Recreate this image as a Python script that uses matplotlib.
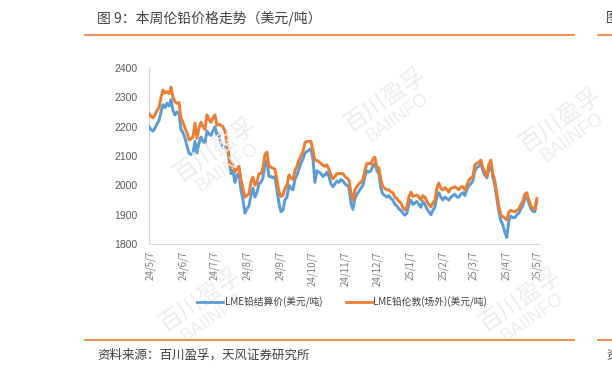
import matplotlib
matplotlib.use("Agg")
import matplotlib.pyplot as plt
from matplotlib.lines import Line2D
import pandas as pd

plt.rcParams['font.family'] = ['Noto Sans CJK SC', 'DejaVu Sans']

title = "图 9：本周伦铅价格走势（美元/吨）"
source = "资料来源：百川盈孚，天风证券研究所"
series_names = ["LME铅结算价(美元/吨)", "LME铅伦敦(场外)(美元/吨)"]
tick_dates = ["2024-05-07", "2024-06-07", "2024-07-07", "2024-08-07", "2024-09-07",
              "2024-10-07", "2024-11-07", "2024-12-07", "2025-01-07", "2025-02-07",
              "2025-03-07", "2025-04-07", "2025-05-07"]
tick_labels = ["24/5/7", "24/6/7", "24/7/7", "24/8/7", "24/9/7", "24/10/7", "24/11/7",
               "24/12/7", "25/1/7", "25/2/7", "25/3/7", "25/4/7", "25/5/7"]
start_date = "2024-05-06"
end_date = "2025-05-06"

lme_settle = [
    2200, 2190, 2185, 2195, 2210, 2220, 2250, 2275, 2265, 2280, 2270, 2292,
    2255, 2240, 2250, 2245, 2190, 2180, 2160, 2135, 2110, 2105, 2110, 2150,
    2110, 2145, 2165, 2150, 2145, 2185, 2175, 2170, 2185, 2200, 2170, 2175,
    2140, 2130, 2130, 2135, 2090, 2040, 2050, 2010, 2035, 2040, 1985, 1950,
    1905, 1920, 1930, 1965, 1990, 1960, 1975, 2005, 2010, 2025, 2075, 2085,
    2030, 2030, 2025, 2030, 1985, 1940, 1910, 1915, 1950, 1960, 2000, 1990,
    1985, 2020, 2035, 2055, 2075, 2090, 2110, 2115, 2120, 2125, 2090, 2010,
    2050, 2045, 2040, 2030, 2035, 2045, 2030, 2005, 1995, 2005, 2015, 2010,
    2020, 2015, 2005, 2000, 1995, 1940, 1918, 1955, 1970, 1980, 1990, 2000,
    2030, 2050, 2045, 2050, 2065, 2075, 2050, 2040, 1990, 1970, 1965, 1960,
    1965, 1955, 1950, 1935, 1930, 1920, 1915, 1905, 1898, 1905, 1935, 1950,
    1935, 1940, 1945, 1935, 1925, 1945, 1935, 1920, 1910, 1900, 1915, 1925,
    1960, 1975, 1960, 1950, 1960, 1955, 1950, 1960, 1965, 1970, 1960, 1960,
    1970, 1975, 1965, 1985, 2000, 2005, 2015, 2050, 2060, 2065, 2075, 2050,
    2035, 2025, 2055, 2070, 2030, 2000, 1955, 1910, 1880, 1865, 1840, 1822,
    1880, 1895, 1890, 1890, 1900, 1905, 1920, 1930, 1955, 1960, 1940, 1920,
    1912, 1910, 1945,
]

lme_otc = [
    2245, 2235, 2230, 2240, 2255, 2265, 2300, 2325, 2315, 2320, 2312, 2335,
    2300, 2285, 2280, 2282, 2230, 2215, 2195, 2180, 2155, 2158, 2165, 2212,
    2160, 2195, 2215, 2200, 2190, 2240, 2225, 2215, 2230, 2240, 2205, 2208,
    2205, 2200, 2185, 2145, 2100, 2063, 2075, 2045, 2055, 2065, 2020, 1990,
    1960, 1965, 1972, 2010, 2028, 2000, 2010, 2040, 2040, 2060, 2105, 2113,
    2065, 2062, 2058, 2055, 2020, 1978, 1962, 1965, 1990, 2000, 2035, 2025,
    2020, 2050, 2065, 2085, 2100, 2115, 2145, 2150, 2150, 2150, 2120, 2085,
    2085, 2080, 2075, 2068, 2065, 2070, 2055, 2035, 2022, 2030, 2040, 2040,
    2040, 2040, 2030, 2025, 2018, 1975, 1950, 1985, 1995, 2005, 2011, 2020,
    2050, 2075, 2075, 2072, 2090, 2096, 2060, 2060, 2020, 1995, 1990, 1984,
    1985, 1977, 1975, 1960, 1955, 1945, 1940, 1925, 1916, 1926, 1960, 1977,
    1962, 1965, 1967, 1960, 1950, 1965, 1960, 1945, 1935, 1926, 1940, 1948,
    1990, 2008, 1990, 1984, 1992, 1985, 1977, 1990, 1992, 1995, 1990, 1985,
    1995, 1995, 1984, 2000, 2018, 2025, 2030, 2070, 2075, 2080, 2086, 2060,
    2045, 2030, 2070, 2086, 2040, 2015, 1973, 1930, 1899, 1893, 1888, 1882,
    1909, 1915, 1912, 1910, 1915, 1920, 1935, 1945, 1970, 1975, 1950, 1930,
    1922, 1918, 1955,
]

dates = pd.date_range(start_date, end_date, periods=len(lme_otc))

BLUE = "#5B9BD5"
ORANGE = "#ED7D31"
GRAY = "#595959"

fig = plt.figure(figsize=(6.12, 3.73), dpi=100)
W, H = 612, 373

def fx(px):
    return px / W

def fy(py):
    return 1 - py / H

ax = fig.add_axes([fx(149), fy(244), fx(540) - fx(149), fy(68) - fy(244)])

ax.plot(dates, lme_settle, color=BLUE, lw=2.1, solid_joinstyle='round', zorder=3)
ax.plot(dates, lme_otc, color=ORANGE, lw=2.1, solid_joinstyle='round', zorder=4)

ax.set_ylim(1800, 2400)
ax.set_yticks([1800, 1900, 2000, 2100, 2200, 2300, 2400])
ax.set_xlim(pd.Timestamp("2024-05-06"), pd.Timestamp("2025-05-09"))
ax.set_xticks(pd.to_datetime(tick_dates))
ax.set_xticklabels(tick_labels, rotation=90)

for s in ["top", "right"]:
    ax.spines[s].set_visible(False)
for s in ["left", "bottom"]:
    ax.spines[s].set_color("#d9d9d9")
    ax.spines[s].set_linewidth(0.8)

ax.tick_params(axis="y", length=0, pad=8, labelsize=7.5, labelcolor=GRAY)
ax.tick_params(axis="x", length=0, pad=5, labelsize=7, labelcolor="#7f7f7f")
for lab in ax.get_yticklabels():
    lab.set_fontfamily(["Liberation Sans", "DejaVu Sans"])

# watermarks
wm_kw = dict(color="#ececec", rotation=35, ha="center", va="center", zorder=1)
for (px, py) in [(215, 150), (385, 100), (560, 120), (200, 300), (520, 300)]:
    fig.text(fx(px), fy(py), "百川盈孚", fontsize=17, **wm_kw)
    fig.text(fx(px + 12), fy(py + 18), "BAIINFO", fontsize=13,
             family=["Liberation Sans", "DejaVu Sans"], **wm_kw)

# legend
handles = [Line2D([], [], color=BLUE, lw=2), Line2D([], [], color=ORANGE, lw=2)]
fig.legend(handles, series_names, loc="center", bbox_to_anchor=(fx(342), fy(302)),
           ncol=2, frameon=False, fontsize=7, handlelength=2.7, handletextpad=0.15,
           columnspacing=2.4, labelcolor="#404040")

# title and source
fig.text(fx(97), fy(18), title, fontsize=10, color="#404040", va="center", ha="left")
fig.text(fx(606), fy(18), "图", fontsize=10, color="#404040", va="center", ha="left")
fig.add_artist(Line2D([fx(85), fx(574)], [fy(35), fy(35)], color=ORANGE, lw=1.2))
fig.add_artist(Line2D([fx(598), fx(612)], [fy(35), fy(35)], color=ORANGE, lw=1.2))
fig.add_artist(Line2D([fx(85), fx(574)], [fy(340), fy(340)], color=ORANGE, lw=1.2))
fig.add_artist(Line2D([fx(598), fx(612)], [fy(340), fy(340)], color=ORANGE, lw=1.2))
fig.text(fx(97), fy(355), source, fontsize=9, color="#404040", va="center", ha="left")
fig.text(fx(606), fy(355), "资", fontsize=9, color="#404040", va="center", ha="left")

fig.savefig("out.png", dpi=100)
